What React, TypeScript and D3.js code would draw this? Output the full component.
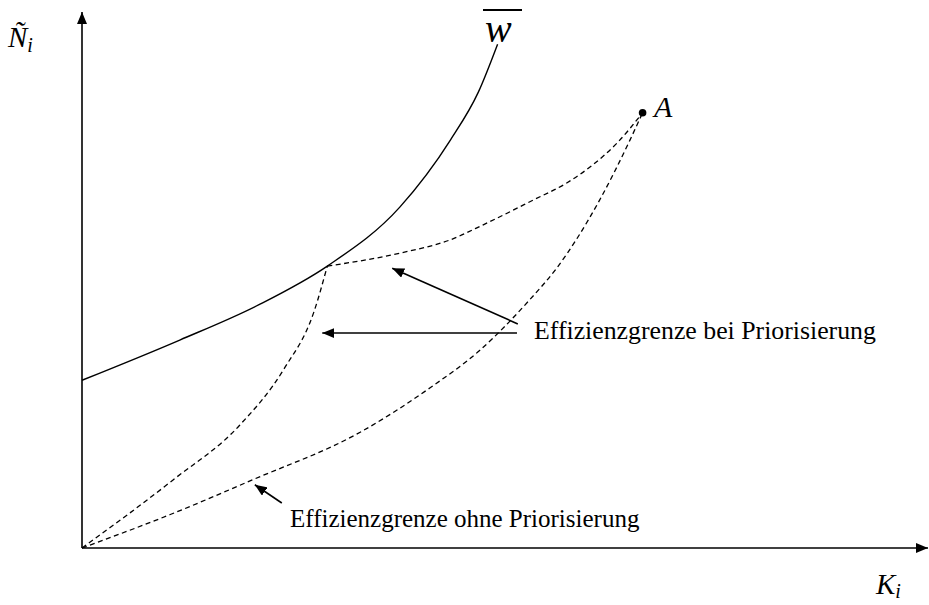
import React from "react";
import * as d3 from "d3";

const W = 929;
const H = 605;

// abstract units, 0–100 on both axes (conceptual diagram, no ticks)
const wbarK = [0, 11.6, 21.0, 29.1, 37.7, 43.7, 47.0, 49.3];
const wbarN = [31.3, 38.8, 45.4, 52.6, 63.6, 76.1, 85.0, 94.0];

// efficiency frontier with prioritisation: origin -> tangency, tangency -> A
const prioLowK = [0, 10.8, 18.7, 24.0, 27.5, 29.1];
const prioLowN = [0, 12.7, 22.9, 33.5, 44.0, 52.6];
const prioHighK = [29.1, 37.7, 43.7, 47.6, 53.5, 57.5, 60.6, 63.5, 66.5];
const prioHighN = [52.6, 55.0, 57.5, 60.3, 64.9, 68.1, 71.5, 75.6, 81.2];

// efficiency frontier without prioritisation: origin -> A
const noPrioK = [0, 10.4, 20.2, 33.0, 41.3, 47.2, 53.1, 56.3, 61.4, 65.0, 66.5];
const noPrioN = [0, 6.2, 12.7, 21.6, 29.9, 36.9, 46.3, 52.2, 64.9, 76.1, 81.2];

const pointA = { k: 66.5, n: 81.2 };

const labelBei = "Effizienzgrenze bei Priorisierung";
const labelOhne = "Effizienzgrenze ohne Priorisierung";

const zip = (ks: number[], ns: number[]) => ks.map((k, i) => [k, ns[i]] as [number, number]);

export default function App() {
  const x = d3.scaleLinear().domain([0, 100]).range([82, 925]);
  const y = d3.scaleLinear().domain([0, 100]).range([548, 12]);

  const line = d3
    .line<[number, number]>()
    .x(d => x(d[0]))
    .y(d => y(d[1]))
    .curve(d3.curveMonotoneX);

  const dash = "5,3.5";

  // annotation arrows [tailK, tailN, tipK, tipN]
  const arrows = [
    [51.7, 41.8, 36.8, 52.2],
    [51.6, 40.1, 28.5, 40.1],
    [23.7, 8.4, 20.5, 11.8],
  ];

  return (
    <svg
      width={W}
      height={H}
      style={{
        position: "absolute",
        left: 0,
        top: 0,
        background: "#fff",
        fontFamily: '"Liberation Serif", "Times New Roman", serif',
      }}
    >
      <defs>
        <marker
          id="arr"
          viewBox="0 0 12 10"
          refX="12"
          refY="5"
          markerWidth="12"
          markerHeight="10"
          markerUnits="userSpaceOnUse"
          orient="auto"
        >
          <path d="M0,0 L12,5 L0,10 Z" fill="#000" />
        </marker>
      </defs>

      {/* axes */}
      <line x1={x(0)} y1={y(0)} x2={x(0)} y2={y(100)} stroke="#000" strokeWidth={1.6} markerEnd="url(#arr)" />
      <line x1={x(0)} y1={y(0)} x2={x(100) + 3} y2={y(0)} stroke="#000" strokeWidth={1.6} markerEnd="url(#arr)" />

      {/* curves */}
      <path d={line(zip(wbarK, wbarN)) || ""} fill="none" stroke="#000" strokeWidth={1.4} />
      <path d={line(zip(prioLowK, prioLowN)) || ""} fill="none" stroke="#000" strokeWidth={1.3} strokeDasharray={dash} />
      <path d={line(zip(prioHighK, prioHighN)) || ""} fill="none" stroke="#000" strokeWidth={1.3} strokeDasharray={dash} />
      <path d={line(zip(noPrioK, noPrioN)) || ""} fill="none" stroke="#000" strokeWidth={1.3} strokeDasharray={dash} />

      <circle cx={x(pointA.k)} cy={y(pointA.n)} r={3.8} fill="#000" />

      {/* arrows */}
      {arrows.map((a, i) => (
        <line
          key={i}
          x1={x(a[0])}
          y1={y(a[1])}
          x2={x(a[2])}
          y2={y(a[3])}
          stroke="#000"
          strokeWidth={1.6}
          markerEnd="url(#arr)"
        />
      ))}

      {/* labels */}
      <text x={8} y={47} fontSize={29} fontStyle="italic">
        Ñ<tspan fontSize={20} dy={5}>i</tspan>
      </text>
      <text x={876} y={594} fontSize={29} fontStyle="italic">
        K<tspan fontSize={20} dy={4}>i</tspan>
      </text>
      <text x={654} y={117} fontSize={30} fontStyle="italic">A</text>
      <line x1={483} y1={10} x2={522} y2={10} stroke="#000" strokeWidth={2} />
      <text x={485} y={42} fontSize={40} fontStyle="italic">w</text>

      <text x={534} y={339} fontSize={25.8}>{labelBei}</text>
      <text x={290} y={527} fontSize={25}>{labelOhne}</text>
    </svg>
  );
}
